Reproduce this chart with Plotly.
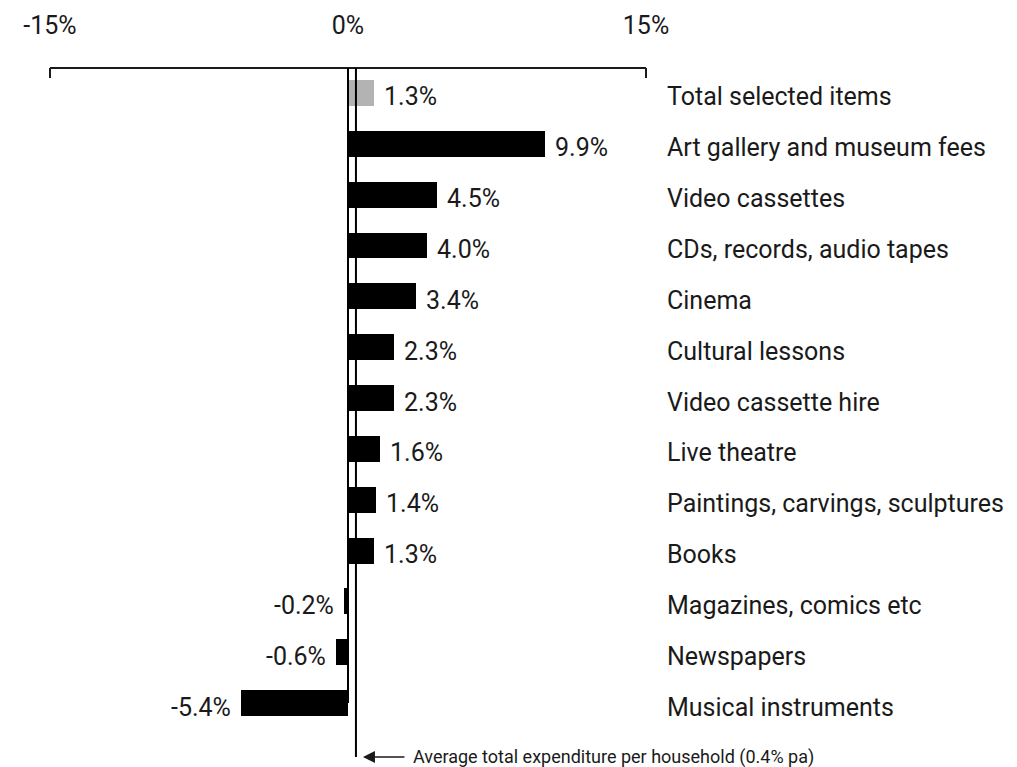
import plotly.graph_objects as go

categories = [
    "Total selected items",
    "Art gallery and museum fees",
    "Video cassettes",
    "CDs, records, audio tapes",
    "Cinema",
    "Cultural lessons",
    "Video cassette hire",
    "Live theatre",
    "Paintings, carvings, sculptures",
    "Books",
    "Magazines, comics etc",
    "Newspapers",
    "Musical instruments",
]
values = [1.3, 9.9, 4.5, 4.0, 3.4, 2.3, 2.3, 1.6, 1.4, 1.3, -0.2, -0.6, -5.4]
average_growth = 0.4
tick_values = [-15, 0, 15]
tick_labels = ["-15%", "0%", "15%"]
note_text = "Average total expenditure per household (0.4% pa)"

FONT = "Roboto, sans-serif"
INK = "#1a1a1a"

ypos = list(range(len(categories)))
colors = ["#b3b3b3"] + ["#000000"] * (len(categories) - 1)

fig = go.Figure()
fig.add_trace(go.Bar(
    x=values, y=ypos, orientation="h", width=0.51,
    marker=dict(color=colors, line=dict(width=0)),
    hoverinfo="skip", showlegend=False,
))

annotations = []
for y, v, c in zip(ypos, values, categories):
    annotations.append(dict(
        x=v, y=y, xref="x", yref="y", text=f"{v:.1f}%", showarrow=False,
        xanchor="left" if v >= 0 else "right", xshift=8 if v >= 0 else -8,
        yshift=-4, font=dict(family=FONT, size=25, color=INK),
    ))
    annotations.append(dict(
        x=1, y=y, xref="paper", yref="y", text=c, showarrow=False,
        xanchor="left", xshift=17, yshift=-4,
        font=dict(family=FONT, size=25, color=INK),
    ))

# arrow pointing at the average line
annotations.append(dict(
    x=average_growth, y=0, xref="x", yref="paper", text="", showarrow=True,
    ax=50, ay=0, axref="pixel", ayref="pixel", standoff=7,
    arrowhead=2, arrowsize=1.6, arrowwidth=1.5, arrowcolor=INK,
))
annotations.append(dict(
    x=average_growth, y=0, xref="x", yref="paper", text=note_text, showarrow=False,
    xanchor="left", yanchor="middle", xshift=55,
    font=dict(family=FONT, size=18, color=INK),
))

shapes = [
    # top axis line between the end ticks
    dict(type="line", xref="x", yref="paper", x0=tick_values[0], x1=tick_values[-1],
         y0=1, y1=1, line=dict(color=INK, width=2)),
    # zero line, ending at the last bar
    dict(type="line", xref="x", yref="y", x0=0, x1=0, y0=-0.49, y1=len(categories) - 1,
         line=dict(color="#000000", width=2)),
    # average expenditure line
    dict(type="line", xref="x", yref="paper", x0=average_growth, x1=average_growth,
         y0=1, y1=0, line=dict(color="#000000", width=2)),
]

fig.update_layout(
    width=1017, height=767,
    margin=dict(l=48, r=369, t=68, b=10),
    paper_bgcolor="white", plot_bgcolor="white",
    annotations=annotations, shapes=shapes,
    bargap=0,
    xaxis=dict(
        side="top", range=[-15.1, 15.1], tickvals=tick_values, ticktext=tick_labels,
        showline=False, ticks="inside", ticklen=10,
        tickwidth=2, tickcolor=INK, showgrid=False, zeroline=False,
        ticklabelstandoff=28,
        tickfont=dict(family=FONT, size=25, color=INK),
        fixedrange=True,
    ),
    yaxis=dict(
        range=[len(categories) + 0.06, -0.49], showticklabels=False, ticks="",
        showgrid=False, zeroline=False, showline=False, fixedrange=True,
    ),
)

fig.write_html("out.html")
